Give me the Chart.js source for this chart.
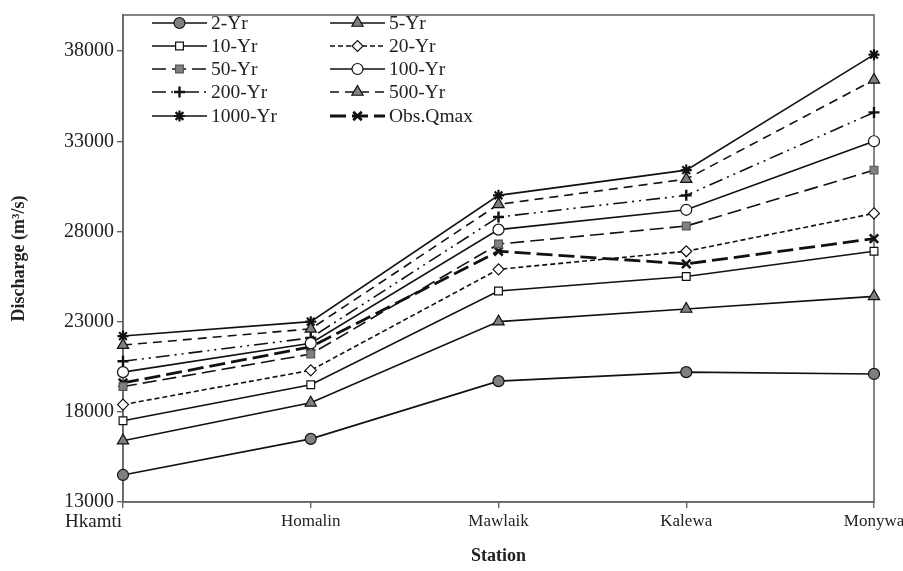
<!DOCTYPE html>
<html>
<head>
<meta charset="utf-8">
<script src="https://cdn.jsdelivr.net/npm/chart.js@4.4.1/dist/chart.umd.min.js"></script>
<style>
html,body{margin:0;padding:0;background:#fff;}
canvas{display:block;}
</style>
</head>
<body>
<canvas id="c" width="903" height="571"></canvas>
<script>
const stations = ["Hkamti", "Homalin", "Mawlaik", "Kalewa", "Monywa"];
const yr2    = [14500, 16500, 19700, 20200, 20100];
const yr5    = [16400, 18500, 23000, 23700, 24400];
const yr10   = [17500, 19500, 24700, 25500, 26900];
const yr20   = [18400, 20300, 25900, 26900, 29000];
const yr50   = [19400, 21200, 27300, 28300, 31400];
const yr100  = [20200, 21800, 28100, 29200, 33000];
const yr200  = [20800, 22100, 28800, 30000, 34600];
const yr500  = [21700, 22600, 29500, 30900, 36400];
const yr1000 = [22200, 23000, 30000, 31400, 37800];
const obsQmax = [19600, 21600, 26900, 26200, 27600];
const yTicks = [13000, 18000, 23000, 28000, 33000, 38000];

const GRAY = '#808080';
const FONT = '"Liberation Serif", "Times New Roman", serif';

function ds(label, data, style, fill, dash, width, ptBorder, ptBorderColor, radius){
  return {
    label, data,
    borderColor: '#111',
    borderWidth: width || 1.6,
    borderDash: dash || [],
    pointStyle: style,
    pointRadius: radius || 5.5,
    pointBackgroundColor: fill,
    pointBorderColor: ptBorderColor || '#111',
    pointBorderWidth: ptBorder || 1.2,
    tension: 0,
    fill: false,
    clip: false
  };
}

const datasets = [
  ds('2-Yr', yr2, 'circle', GRAY),
  ds('5-Yr', yr5, 'triangle', GRAY, [], 1.6, 1.2, '#111', 6.5),
  ds('10-Yr', yr10, 'rect', '#fff'),
  ds('20-Yr', yr20, 'rectRot', '#fff', [5,3]),
  ds('50-Yr', yr50, 'rect', GRAY, [14,6], 1.6, 1.2, '#555'),
  ds('100-Yr', yr100, 'circle', '#fff'),
  ds('200-Yr', yr200, 'cross', '#111', [14,5,2,5,2,5], 1.6, 2.4),
  ds('500-Yr', yr500, 'triangle', GRAY, [9,6], 1.6, 1.2, '#111', 6.5),
  ds('1000-Yr', yr1000, 'star', '#111', [], 1.6, 2.2),
  ds('Obs.Qmax', obsQmax, 'crossRot', '#111', [16,6], 2.8, 2.6, '#111', 6)
];

const customDraw = {
  id: 'customDraw',
  beforeDatasetsDraw(chart){
    const {ctx, chartArea:a} = chart;
    ctx.save();
    ctx.strokeStyle = '#666';
    ctx.lineWidth = 1.6;
    ctx.strokeRect(a.left, a.top, a.right - a.left, a.bottom - a.top);
    ctx.restore();
  },
  afterDraw(chart){
    const {ctx, chartArea:a} = chart;
    const xs = chart.scales.x;
    ctx.save();
    ctx.fillStyle = '#222';
    ctx.textBaseline = 'middle';
    stations.forEach((s,i)=>{
      const x = xs.getPixelForValue(i);
      if(i===0){
        ctx.font = '19px ' + FONT;
        ctx.textAlign = 'right';
        ctx.fillText(s, x - 1, 522);
      } else {
        ctx.font = '17px ' + FONT;
        ctx.textAlign = 'center';
        ctx.fillText(s, x, 522);
      }
    });
    ctx.font = 'bold 18px ' + FONT;
    ctx.textAlign = 'center';
    ctx.fillText('Station', (a.left + a.right)/2, 556);
    ctx.save();
    ctx.translate(19, (a.top + a.bottom)/2);
    ctx.rotate(-Math.PI/2);
    ctx.fillText('Discharge (m\u00B3/s)', 0, 0);
    ctx.restore();

    const cols = [{l0:152, l1:207, tx:211}, {l0:330, l1:385, tx:389}];
    const rows = [23, 46, 69, 92, 116];
    chart.data.datasets.forEach((d,i)=>{
      const c = cols[i % 2];
      const y = rows[Math.floor(i/2)];
      ctx.save();
      ctx.strokeStyle = d.borderColor;
      ctx.lineWidth = d.borderWidth;
      ctx.setLineDash(d.borderDash || []);
      ctx.beginPath();
      ctx.moveTo(c.l0, y);
      ctx.lineTo(c.l1, y);
      ctx.stroke();
      ctx.setLineDash([]);
      ctx.fillStyle = d.pointBackgroundColor;
      ctx.strokeStyle = d.pointBorderColor;
      ctx.lineWidth = d.pointBorderWidth;
      Chart.helpers.drawPoint(ctx, {pointStyle: d.pointStyle, radius: d.pointRadius, rotation: 0, borderWidth: d.pointBorderWidth}, (c.l0 + c.l1)/2, y);
      ctx.restore();
      ctx.fillStyle = '#222';
      ctx.font = '19.5px ' + FONT;
      ctx.textAlign = 'left';
      ctx.textBaseline = 'middle';
      ctx.fillText(d.label, c.tx, y + 1);
    });
    ctx.restore();
  }
};

new Chart(document.getElementById('c'), {
  type: 'line',
  data: { labels: stations, datasets },
  options: {
    responsive: false,
    animation: false,
    layout: { padding: { top: 9, right: 29, left: 0, bottom: 0 } },
    plugins: { legend: { display: false }, tooltip: { enabled: false } },
    scales: {
      x: {
        type: 'category',
        offset: false,
        grid: { drawOnChartArea: false, drawTicks: true, tickLength: 6, color: '#666', lineWidth: 1.4 },
        border: { display: true, color: '#666', width: 1.6 },
        ticks: { display: false },
        afterFit(s){ s.height = 69; }
      },
      y: {
        min: 13000, max: 40000,
        grid: { drawOnChartArea: false, drawTicks: true, tickLength: 6, color: '#666', lineWidth: 1.4 },
        border: { display: true, color: '#666', width: 1.6 },
        afterBuildTicks(s){ s.ticks = yTicks.map(v => ({value: v})); },
        ticks: { font: { family: FONT, size: 20 }, color: '#222', padding: 3, callback: v => String(v) },
        afterFit(s){ s.width = 123; }
      }
    }
  },
  plugins: [customDraw]
});
</script>
</body>
</html>
